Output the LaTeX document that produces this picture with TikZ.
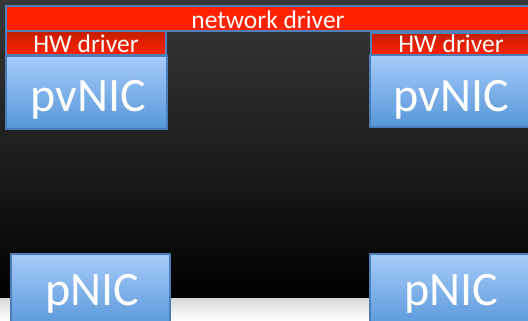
\documentclass[tikz,border=0pt]{standalone}
\usepackage{fontspec}
\setmainfont{Carlito}
\begin{document}
\begin{tikzpicture}[x=1pt,y=-1pt,
  redbar/.style={draw=barborder,line width=1.2pt,fill=barred},
  hwbox/.style={draw=barborder,line width=1.2pt,top color=hwtop,bottom color=barred},
  nicbox/.style={draw=nicborder,line width=1.2pt,top color=nictop,bottom color=nicbot},
  lbl/.style={text=white,inner sep=0pt,anchor=base},
  small/.style={lbl,font=\fontsize{25.5}{25.5}\selectfont},
  big/.style={lbl,font=\fontsize{48}{48}\selectfont}]
\definecolor{barborder}{HTML}{4F81BD}
\definecolor{nicborder}{HTML}{4A7EBB}
\definecolor{barred}{HTML}{FF2200}
\definecolor{hwtop}{HTML}{C41E00}
\definecolor{nictop}{HTML}{A6CBFA}
\definecolor{nicbot}{HTML}{5696D8}
\definecolor{bgtop}{HTML}{383838}
\definecolor{bgbot}{HTML}{000000}
\definecolor{floor}{HTML}{FFFFFF}
\definecolor{floorsh}{HTML}{D8D8D8}
\useasboundingbox (0,0) rectangle (528,321);
\clip (0,0) rectangle (528,321);
% background
\shade[top color=bgtop,bottom color=bgbot,middle color=black!88] (0,0) rectangle (528,298);
\shade[top color=floorsh,bottom color=floor] (0,298) rectangle (528,321);
% network driver bar
\path[redbar] (6,6) rectangle (540,31);
\node[small] (net) at (268,29) {network driver};
% left stack
\path[hwbox] (6,31) rectangle (166,55);
\node[small] (hwl) at (86,53) {HW driver};
\path[nicbox] (6,56) rectangle (167,129);
\node[big] (pvl) at (88,112) {pvNIC};
% right stack
\path[hwbox] (371,33) rectangle (540,55);
\node[small] (hwr) at (451,53) {HW driver};
\path[nicbox] (370,55) rectangle (540,127);
\node[big] (pvr) at (451,112) {pvNIC};
% physical NICs
\path[nicbox] (11,254) rectangle (170,330);
\node[big] (pnl) at (92,305) {pNIC};
\path[nicbox] (370,254) rectangle (540,330);
\node[big] (pnr) at (451,305) {pNIC};
\end{tikzpicture}
\end{document}
